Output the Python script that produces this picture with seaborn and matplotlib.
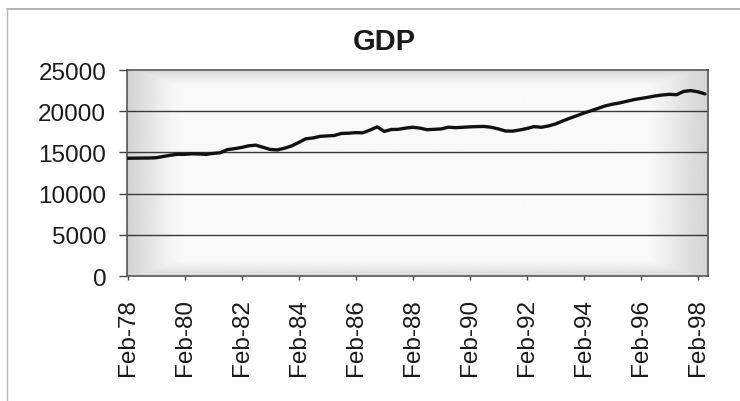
import numpy as np
import pandas as pd
import matplotlib
matplotlib.use("Agg")
import matplotlib.pyplot as plt
from matplotlib.lines import Line2D
import seaborn as sns

# Quarterly GDP, starting February 1978
start = "1978-02-01"
gdp = [
    14290, 14300, 14310, 14320, 14350, 14500, 14650, 14770, 14760, 14830,
    14810, 14760, 14880, 14950, 15330, 15450, 15600, 15800, 15880, 15620,
    15360, 15300, 15500, 15780, 16200, 16650, 16750, 16950, 17000, 17050,
    17300, 17330, 17400, 17380, 17700, 18100, 17550, 17780, 17800, 17950,
    18050, 17950, 17760, 17800, 17850, 18060, 18000, 18050, 18100, 18130,
    18150, 18050, 17850, 17600, 17580, 17720, 17900, 18130, 18050, 18200,
    18450, 18800, 19140, 19450, 19780, 20050, 20350, 20650, 20850, 21000,
    21200, 21400, 21550, 21690, 21850, 21970, 22050, 22000, 22400, 22500,
    22350, 22100,
]
tick_years = list(range(1978, 1999, 2))
y_ticks = [0, 5000, 10000, 15000, 20000, 25000]
title = "GDP"

dates = pd.date_range(start, periods=len(gdp), freq="3MS")
df = pd.DataFrame({"date": dates, "gdp": gdp})

sns.set_theme(style="white")
plt.rcParams["font.family"] = ["Liberation Sans", "DejaVu Sans"]

fig = plt.figure(figsize=(7.4, 4.02), dpi=100)
fig.patch.set_facecolor("white")
ax = fig.add_axes([127 / 740, 1 - 277 / 402, (708 - 127) / 740, (277 - 71) / 402])

# rectangular grey-to-white fill of the plot area
nx, ny = 600, 220
u = np.linspace(0, 1, nx)[None, :]
v = np.linspace(0, 1, ny)[:, None]
fx_left = np.clip((0.085 - u) / 0.085, 0, 1)
fx_right = np.clip((u - 0.90) / 0.10, 0, 1)
fy = np.clip((np.abs(v - 0.5) - 0.43) / 0.07, 0, 1)
f = np.maximum(np.maximum(fx_left, fx_right), 0.8 * fy)
f = np.maximum(f, 0.35 * np.clip((np.abs(u - 0.5) - 0.40) / 0.10, 0, 1))
shade = 0.975 - 0.15 * f
ax.imshow(shade, cmap="gray", vmin=0, vmax=1, aspect="auto",
          extent=(0, 1, 0, 1), transform=ax.transAxes, zorder=0,
          interpolation="bilinear")

for yv in y_ticks[1:-1]:
    ax.axhline(yv, color="#3a3a3a", lw=1.0, zorder=1)

sns.lineplot(data=df, x="date", y="gdp", ax=ax, color="#111111", lw=2.4,
             zorder=3)

ax.set_xlim(pd.Timestamp("1978-01-25"), pd.Timestamp("1998-06-08"))
ax.set_ylim(0, 25000)
ax.set_yticks(y_ticks)
ax.set_yticklabels([str(t) for t in y_ticks])
xt = [pd.Timestamp(f"{y}-02-01") for y in tick_years]
ax.set_xticks(xt)
ax.set_xticklabels([f"Feb-{y % 100:02d}" for y in tick_years], rotation=90)
ax.set_xlabel("")
ax.set_ylabel("")

ax.tick_params(axis="both", which="both", direction="out", width=1.0,
               color="#444444", labelsize=17.5, labelcolor="#1a1a1a",
               bottom=True, left=True)
ax.tick_params(axis="y", length=6, pad=9)
ax.tick_params(axis="x", length=3, pad=13)
for side in ["left", "bottom", "top", "right"]:
    ax.spines[side].set_visible(True)
    ax.spines[side].set_color("#555555")
    ax.spines[side].set_linewidth(1.2)

fig.text(384 / 740, 1 - 42 / 402, title, ha="center", va="center",
         fontsize=21, fontweight="bold", color="#1a1a1a")

# outer chart frame
fig.add_artist(Line2D([7 / 740, 1.0], [1 - 10 / 402, 1 - 10 / 402],
                      transform=fig.transFigure, color="#a8a8a8", lw=1.2))
fig.add_artist(Line2D([7 / 740, 7 / 740], [0.0, 1 - 10 / 402],
                      transform=fig.transFigure, color="#b8b8b8", lw=1.0))

fig.savefig("out.png", dpi=100, facecolor="white")
